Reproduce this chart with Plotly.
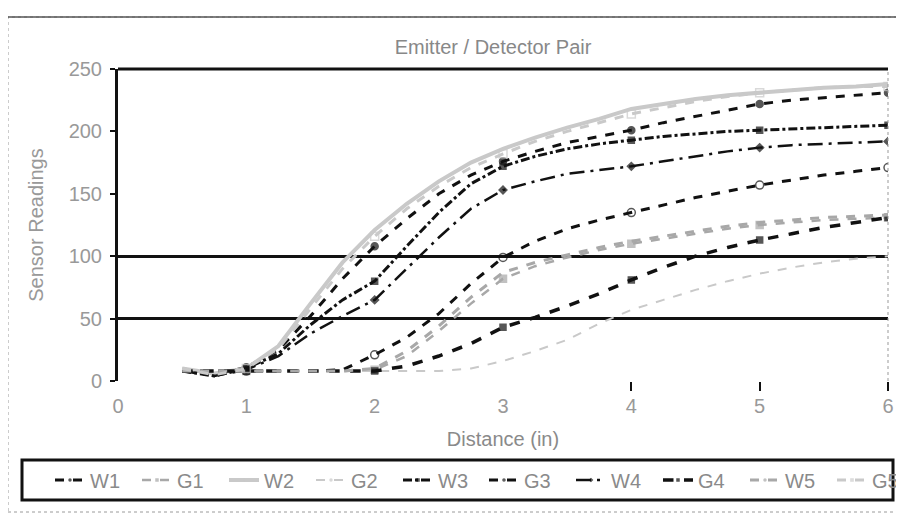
import plotly.graph_objects as go

# ---- data ----
X = [0.5, 0.75, 1.0, 1.25, 1.5, 1.75, 2.0, 2.25, 2.5, 2.75, 3.0, 3.25, 3.5,
     3.75, 4.0, 4.25, 4.5, 4.75, 5.0, 5.25, 5.5, 5.75, 6.0]

W1 = [9, 5, 11, 25, 52, 82, 108, 130, 150, 165, 176, 184, 191, 196, 201, 207, 212, 217, 222, 225, 227, 229, 231]
G1 = [8, 8, 8, 8, 8, 8, 9, 20, 40, 62, 82, 92, 99, 105, 110, 114, 118, 122, 125, 127, 129, 130, 131]
W2 = [10, 6, 10, 28, 62, 95, 121, 142, 160, 175, 186, 195, 203, 210, 218, 222, 226, 229, 231, 233, 235, 236, 238]
G2 = [8, 8, 8, 8, 8, 8, 8, 8, 8, 10, 16, 24, 33, 46, 57, 65, 73, 80, 86, 91, 95, 98, 100]
W3 = [8, 4, 10, 22, 45, 65, 80, 108, 135, 158, 172, 180, 186, 190, 193, 196, 198, 200, 201, 202, 203, 204, 205]
G3 = [8, 8, 8, 8, 8, 9, 21, 35, 54, 78, 99, 112, 122, 129, 135, 141, 147, 152, 157, 161, 165, 168, 171]
W4 = [8, 4, 9, 20, 38, 52, 65, 90, 115, 138, 153, 160, 166, 169, 172, 176, 180, 184, 187, 189, 190, 191, 192]
G4 = [8, 8, 8, 8, 8, 8, 8, 12, 20, 30, 43, 51, 60, 70, 81, 91, 100, 107, 113, 118, 123, 127, 131]
W5 = [8, 8, 8, 8, 8, 8, 10, 24, 44, 67, 87, 95, 101, 107, 112, 116, 120, 124, 127, 129, 131, 132, 133]
G5 = [10, 5, 10, 26, 58, 90, 116, 138, 156, 171, 182, 192, 200, 207, 214, 219, 224, 228, 231, 233, 235, 236, 236]

SERIES_NAMES = ["W1", "G1", "W2", "G2", "W3", "G3", "W4", "G4", "W5", "G5"]
SERIES_VALUES = [W1, G1, W2, G2, W3, G3, W4, G4, W5, G5]

Y_TICKS = [0, 50, 100, 150, 200, 250]
Y_GRID = [50, 100]
X_TICKS = [0, 1, 2, 3, 4, 5, 6]
X_MARKED_TICKS = [4, 5, 6]

# ---- geometry ----
# the page body has an 8px margin, so the figure is drawn 8px in from the
# window corner; work in window pixels and shift by that offset.
OFF = 8
W, H = 904 - OFF, 518 - OFF
PLOT_L, PLOT_R, PLOT_T, PLOT_B = 118, 888, 69, 381     # window px
ML = PLOT_L - OFF
MT = PLOT_T - OFF
MB = H - (PLOT_B - OFF)
MR = W - (PLOT_R - OFF)
PW, PH = W - ML - MR, H - MT - MB


def px_x(sx):
    return (sx - OFF - ML) / PW


def px_y(sy):
    return (H - MB - (sy - OFF)) / PH


def cx(sx):
    return (sx - OFF) / W


def cy(sy):
    return 1 - (sy - OFF) / H


# ---- styles ----
BLACK = "#111111"
LIGHT = "#c9c9c9"
MID = "#a8a8a8"
styles = {
    "W1": dict(color=BLACK, width=3, dash="dash", symbol="circle", msize=7),
    "G1": dict(color=MID, width=2.5, dash="dash", symbol="square", msize=7),
    "W2": dict(color=LIGHT, width=4, dash="solid", symbol="circle", msize=0),
    "G2": dict(color=LIGHT, width=2, dash="dash", symbol="circle", msize=0),
    "W3": dict(color=BLACK, width=3, dash="dashdot", symbol="square", msize=6),
    "G3": dict(color=BLACK, width=3, dash="dash", symbol="circle-open", msize=8),
    "W4": dict(color=BLACK, width=2.5, dash="longdashdot", symbol="diamond", msize=6),
    "G4": dict(color=BLACK, width=3.5, dash="dash", symbol="square", msize=6),
    "W5": dict(color=MID, width=3, dash="dash", symbol="circle", msize=0),
    "G5": dict(color=LIGHT, width=3, dash="dash", symbol="square-open", msize=8),
}

FONT = "Liberation Sans, Arial, sans-serif"
GRAY_TXT = "#999999"

fig = go.Figure()
for i, (name, vals) in enumerate(zip(SERIES_NAMES, SERIES_VALUES)):
    s = styles[name]
    sizes = [s["msize"] if float(x).is_integer() else 0 for x in X]
    fig.add_trace(go.Scatter(
        x=X, y=vals, name=name, mode="lines+markers",
        legend="legend" if i < 5 else "legend2",
        line=dict(color=s["color"], width=s["width"], dash=s["dash"]),
        marker=dict(symbol=s["symbol"], size=sizes, color=s["color"],
                    line=dict(color=s["color"], width=1.5)),
    ))

# empty helper trace so the overlay axes (gridlines / end ticks) are drawn
fig.add_trace(go.Scatter(x=[None], y=[None], xaxis="x2", yaxis="y2",
                         showlegend=False, hoverinfo="skip", mode="lines"))

legend_common = dict(orientation="h", xanchor="left", xref="container",
                     yanchor="middle", yref="container", y=cy(480),
                     borderwidth=0, bgcolor="rgba(0,0,0,0)",
                     font=dict(size=20, color="#8a8a8a"),
                     entrywidth=42, itemwidth=30, tracegroupgap=0)

fig.update_layout(
    width=W, height=H,
    paper_bgcolor="white", plot_bgcolor="rgba(0,0,0,0)",
    margin=dict(l=ML, r=MR, t=MT, b=MB, autoexpand=False),
    font=dict(family=FONT, color=GRAY_TXT, size=20),
    title=dict(text="Emitter / Detector Pair", x=cx(493), xanchor="center",
               xref="container", y=cy(47), yanchor="middle", yref="container",
               font=dict(size=20, color="#888888", family=FONT)),
    xaxis=dict(range=[0, 6], tickvals=X_TICKS, ticks="", showgrid=False,
               zeroline=False, showline=False, automargin=False,
               ticklabelstandoff=11,
               title=dict(text="Distance (in)", standoff=15,
                          font=dict(size=20, color="#8a8a8a"))),
    xaxis2=dict(range=[0, 6], overlaying="x", anchor="y", side="bottom",
                tickvals=X_MARKED_TICKS, ticks="outside", ticklen=9,
                tickwidth=2, tickcolor=BLACK, showticklabels=False,
                showgrid=False, zeroline=False, showline=False, automargin=False),
    yaxis=dict(range=[0, 250], tickvals=Y_TICKS, ticks="outside", ticklen=5,
               tickwidth=2, tickcolor=BLACK, showgrid=False, zeroline=False,
               showline=True, linecolor=BLACK, linewidth=3, automargin=False,
               ticklabelstandoff=4,
               title=dict(text="Sensor Readings", standoff=20,
                          font=dict(size=20, color="#999999"))),
    yaxis2=dict(range=[0, 250], overlaying="y", anchor="x", side="left",
                tickvals=Y_GRID, showgrid=True, gridcolor=BLACK, gridwidth=3,
                showticklabels=False, ticks="", zeroline=False, showline=False,
                automargin=False),
    legend=dict(legend_common, x=cx(50)),
    legend2=dict(legend_common, x=cx(484)),
    shapes=[
        # outer dotted frame of the chart
        dict(type="rect", xref="paper", yref="paper",
             x0=px_x(8), x1=px_x(898), y0=px_y(512), y1=px_y(17),
             line=dict(color="#9a9a9a", width=1, dash="dot"), layer="below"),
        dict(type="line", xref="paper", yref="paper",
             x0=px_x(8), x1=px_x(898), y0=px_y(17), y1=px_y(17),
             line=dict(color="#555555", width=1.5)),
        # top border of the plot area
        dict(type="line", xref="x domain", yref="y domain",
             x0=0, x1=1, y0=1, y1=1,
             line=dict(color=BLACK, width=3)),
        # right border of the plot area
        dict(type="line", xref="x domain", yref="y domain",
             x0=1, x1=1, y0=0, y1=1,
             line=dict(color="#999999", width=1, dash="dot")),
        # legend box
        dict(type="rect", xref="paper", yref="paper",
             x0=px_x(22), x1=px_x(893), y0=px_y(500), y1=px_y(460),
             line=dict(color=BLACK, width=3)),
    ],
)

fig.write_html("out.html")
